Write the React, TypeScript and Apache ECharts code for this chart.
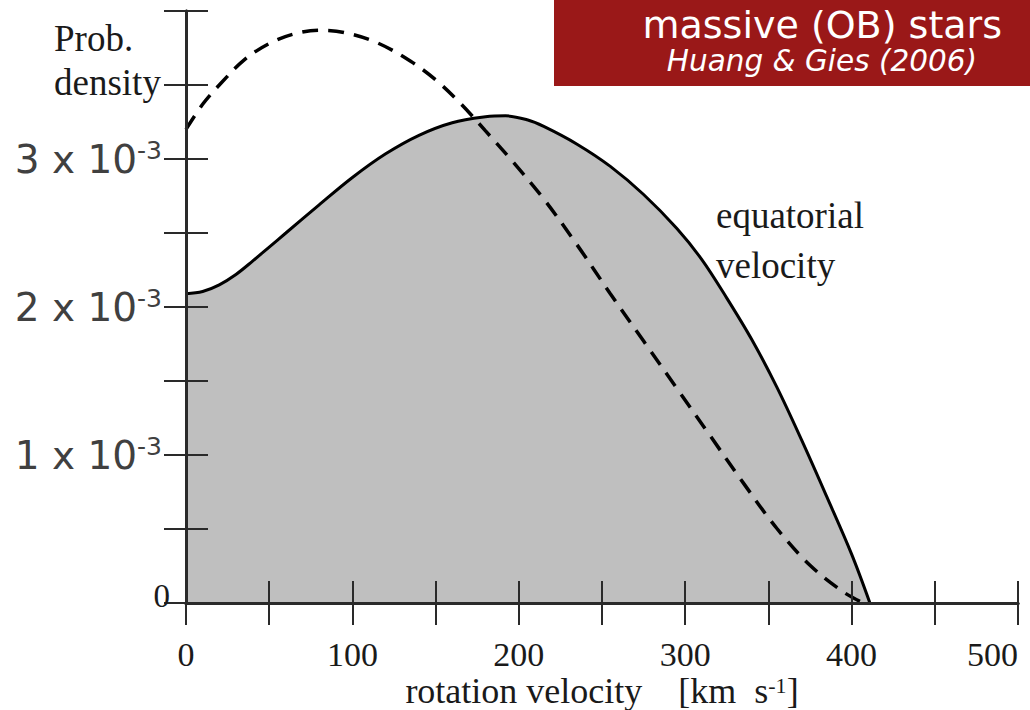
import React, { useEffect, useRef } from "react";
import * as echarts from "echarts";

// equatorial velocity distribution (density in units of 1e-3)
const eqV = [0, 10, 20, 30, 40, 50, 60, 80, 100, 120, 140, 160, 180, 192, 205, 215, 235, 255, 275, 295, 310, 325, 340, 355, 370, 385, 400, 411];
const eqD = [2.09, 2.105, 2.15, 2.22, 2.31, 2.405, 2.50, 2.69, 2.875, 3.035, 3.16, 3.245, 3.285, 3.292, 3.265, 3.22, 3.10, 2.95, 2.76, 2.53, 2.32, 2.06, 1.78, 1.46, 1.10, 0.72, 0.33, 0];

// v sin i distribution (density in units of 1e-3)
const vsiniV = [0, 10, 20, 35, 50, 65, 80, 95, 115, 135, 150, 165, 180, 195, 215, 235, 255, 275, 295, 315, 335, 355, 375, 395, 407];
const vsiniD = [3.20, 3.37, 3.50, 3.67, 3.78, 3.845, 3.87, 3.855, 3.785, 3.66, 3.535, 3.375, 3.19, 3.0, 2.73, 2.42, 2.09, 1.77, 1.45, 1.13, 0.81, 0.505, 0.255, 0.075, 0];

const xTickLabels = [0, 100, 200, 300, 400, 500];
const yTickLabels = [0, 1, 2, 3];

const title = "massive (OB) stars";
const subtitle = "Huang & Gies (2006)";

const SERIF = "'Liberation Serif', 'Times New Roman', serif";
const SANS = "'DejaVu Sans', Verdana, sans-serif";

export default function App() {
  const ref = useRef<HTMLDivElement>(null);

  useEffect(() => {
    if (!ref.current) return;
    const chart = echarts.init(ref.current, null, { renderer: "svg" });

    const axisLine = { show: true, lineStyle: { color: "#2a2a2a", width: 3 } };
    const axisTick = { show: true, inside: true, length: 22, lineStyle: { color: "#2a2a2a", width: 2 } };

    chart.setOption({
      animation: false,
      backgroundColor: "#ffffff",
      grid: { left: 186, right: 12, top: 11, bottom: 107, containLabel: false, outerBoundsMode: "none" },
      xAxis: [
        {
          type: "value",
          min: 0,
          max: 500,
          interval: 50,
          position: "bottom",
          z: 10,
          axisLine,
          axisTick,
          splitLine: { show: false },
          axisLabel: {
            margin: 36,
            fontFamily: SERIF,
            fontSize: 34,
            lineHeight: 30,
            color: "#1a1a1a",
            alignMaxLabel: "right",
            formatter: (v: number) => (xTickLabels.includes(v) ? String(v) : ""),
          },
          name: "{a|rotation velocity    [km  s}{s|-1}{a|]}",
          nameLocation: "middle",
          nameGap: 71,
          nameMoveOverlap: false,
          nameTextStyle: {
            rich: {
              a: { fontFamily: SERIF, fontSize: 36, color: "#1a1a1a", lineHeight: 34 },
              s: { fontFamily: SERIF, fontSize: 22, color: "#1a1a1a", lineHeight: 34, verticalAlign: "top" },
            },
          },
        },
        {
          type: "value",
          min: 0,
          max: 500,
          interval: 50,
          position: "top",
          z: 10,
          axisLine,
          axisTick,
          splitLine: { show: false },
          axisLabel: { show: false },
        },
      ],
      yAxis: [
        {
          type: "value",
          min: 0,
          max: 4,
          interval: 0.5,
          position: "left",
          z: 10,
          axisLine,
          axisTick,
          splitLine: { show: false },
          axisLabel: {
            margin: 16,
            formatter: (v: number) => {
              if (v === 0) return "{z|0}";
              if (yTickLabels.includes(v)) return `{a|${v} x 10}{s|-3}`;
              return "";
            },
            rich: {
              z: { fontFamily: SERIF, fontSize: 33, color: "#1a1a1a", padding: [0, 0, 14, 0] },
              a: { fontFamily: SANS, fontSize: 39, color: "#404040", lineHeight: 42 },
              s: { fontFamily: SANS, fontSize: 25, color: "#404040", lineHeight: 42, verticalAlign: "top", padding: [0, 8, 0, 0] },
            },
          },
        },
        {
          type: "value",
          min: 0,
          max: 4,
          interval: 0.5,
          position: "right",
          z: 10,
          axisLine,
          axisTick,
          splitLine: { show: false },
          axisLabel: { show: false },
        },
      ],
      series: [
        {
          name: "equatorial velocity",
          type: "line",
          data: eqV.map((v, i) => [v, eqD[i]]),
          smooth: 0.35,
          symbol: "none",
          lineStyle: { color: "#000000", width: 3 },
          areaStyle: { color: "#bfbfbf", opacity: 1 },
          z: 2,
        },
        {
          name: "v sin i",
          type: "line",
          data: vsiniV.map((v, i) => [v, vsiniD[i]]),
          smooth: 0.35,
          symbol: "none",
          lineStyle: { color: "#000000", width: 3.5, type: [16, 10] },
          z: 3,
        },
      ],
      graphic: [
        {
          type: "text",
          left: 54,
          top: 16,
          style: {
            text: "Prob.\ndensity",
            font: `37px ${SERIF}`,
            fill: "#1a1a1a",
            lineHeight: 44,
          },
        },
        {
          type: "text",
          left: 716,
          top: 190,
          style: {
            text: "equatorial\nvelocity",
            font: `37px ${SERIF}`,
            fill: "#1a1a1a",
            lineHeight: 50,
          },
        },
        {
          type: "text",
          left: 492,
          top: 280,
          style: {
            text: "v sin i",
            font: `37px ${SERIF}`,
            fill: "#1a1a1a",
          },
        },
        {
          type: "rect",
          z: 100,
          shape: { x: 554, y: 0, width: 476, height: 86 },
          style: { fill: "#9a1818" },
        },
        {
          type: "text",
          z: 101,
          x: 1002,
          y: 25,
          style: {
            text: title,
            font: `38px ${SANS}`,
            fill: "#ffffff",
            align: "right",
            verticalAlign: "middle",
          },
        },
        {
          type: "text",
          z: 101,
          x: 977,
          y: 61,
          style: {
            text: subtitle,
            font: `italic 29.5px ${SANS}`,
            fill: "#ffffff",
            align: "right",
            verticalAlign: "middle",
          },
        },
      ],
    });

    return () => chart.dispose();
  }, []);

  return (
    <div
      ref={ref}
      style={{ position: "fixed", left: 0, top: 0, width: 1030, height: 710, background: "#fff" }}
    />
  );
}
